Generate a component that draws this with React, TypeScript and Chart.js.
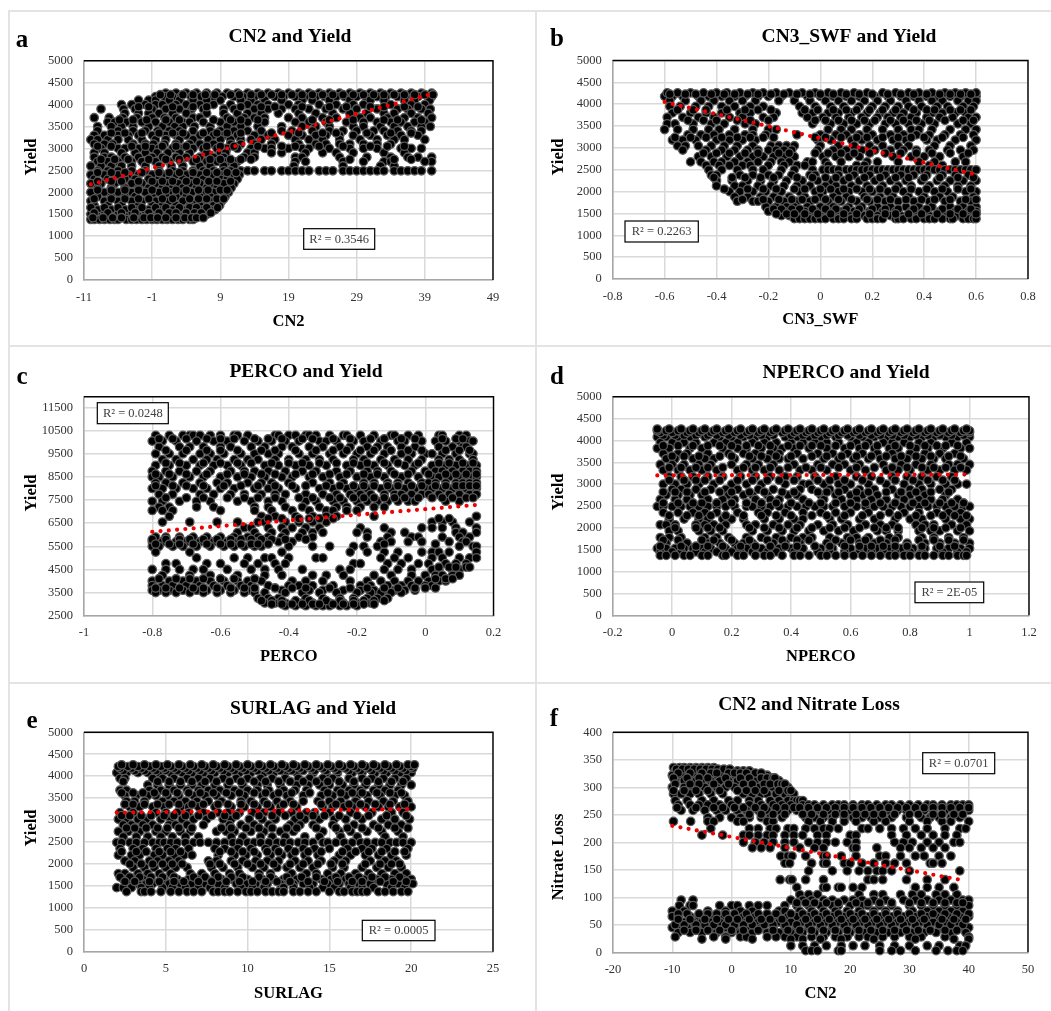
import { useEffect, useRef } from 'react';
import { Chart, registerables } from 'chart.js';
Chart.register(...registerables);

const SERIF = '"Liberation Serif"';
type Rows = [number, number[]][];

const rowsA: Rows = [
[4260,[1,2.5,4,5.5,7,8.5,10,11.5,13,14.5,16,17.5,19,20.5,22,23.5,25,26.5,28,29.5,31,32.5,34,35.5,37,38.5,40]],
[4180,[-.5,.8,2,3.2,4.7,6.2,8,9.3,11,12.3,14,15.2,17,18.3,20,21.4,23,24.3,26,27.2,29,30.3,32,33.3,35,36.2,38,39.5,40]],
[4100,[-3,-1.5,-.5,1.5,3,5,7,9,12,13.5,15.5,18,21,22.5,25,28,31,33,36,37.5,39.7]],
[4000,[-5.5,-4,-2,-.5,.5,2.5,4,6,8,10.5,13,14.5,16,19,20.5,23.5,26,28.5,30,34,37,39]],
[3900,[-8.5,-5.2,-3.5,-1,1,3,4.8,6.5,9.5,11,14,16,18,20,22,24.5,27,29,32,35,36.5,38.5,39.8]],
[3800,[-5,-3,-1.5,0,2,4,7,9.5,11.5,13,15,17.5,20.5,23,25.5,28,30.5,33,34.5,37,39.5]],
[3700,[-9.5,-7.3,-5.3,-3.2,-1,.8,2.5,5,6,10,12.5,14,15.5,19,21,24,26,29.5,31,33.5,36,38,40]],
[3600,[-7.5,-6.5,-4.8,-2.5,-.5,1.5,3.5,4.5,6.5,9,11,13,15.5,20,22,24.5,27.5,30,32,34,35.5,37.5,39]],
[3500,[-9,-7,-5.5,-3.8,-1.5,.5,2.3,3.5,5.2,7.5,10,12,14.5,18,21,23,25,28.5,30,32.5,34.5,36.5,38.5,39.8]],
[3400,[-9,-6,-3.8,-2,-.2,1.5,3,5,7.5,9,11,13,15,18,19.5,22.5,25,27,29,31.5,33,35,37,38.5]],
[3300,[-9.5,-8,-6,-4.5,-3,-1,1,2.5,4,6,8,9.5,11.5,14,16,19,21,23,24.5,26.5,28.5,31,33.5,35.5,38]],
[3200,[-10,-9,-7.5,-6,-4.5,-2.5,-.5,1,3,5,7.2,9,10.5,12,13.5,15,17,20,22,24,26.5,29.5,32,34.5,36,39]],
[3100,[-9.5,-8,-6.8,-3.8,-2,-.8,.8,2.5,4.5,6,8,10.5,12,14,16.5,20.5,23,24.5,26.5,28,30,32,34]],
[3000,[-8.5,-6,-5,-3,-1,0,2,3.2,5,6.5,8.5,10,11.5,13.5,15.5,16.5,19,21,22,25,28,30,32,35.5,37,38.5]],
[2900,[-9.5,-8,-5.5,-3.5,-2,-.3,1.3,3,4.5,7,9,9.8,13,14,16.5,18,21.5,24,26,28.5,33,36]],
[2800,[-9.5,-8,-7,-5,-3,-1,.5,2.5,4,6,8,9.5,12.5,14,20,21,26.5,30.5,34,36.5,38,40]],
[2700,[-9,-7.5,-6,-4,-2.5,-.5,1.5,3.2,5,7,8.5,10,11.5,20,21.5,27,30,33,34,40,39]],
[2600,[-10,-8.5,-7,-5.5,-4,-2,0,1.8,3.5,6,7.5,9.5,11,19.8,27,32.5,34.5]],
[2490,[-9,-7.5,-6,-4,-2,0,2,3.5,5,6.5,8,9.5,10.5,12,13,14,15.5,16.5,18,19,20,21,22,23.5,24.5,25.5,27,28,29,30,31,32,33,34.5,35.5,36.5,37.5,38.5,40]],
[2400,[-10,-8,-6,-4.5,-3,-1,.5,2.5,4,6,8,9,10.5,11.8]],
[2300,[-9.5,-7.5,-5,-3.5,-1.5,0,1.5,3.5,5,6.5,9,10,11.5]],
[2200,[-10,-8.5,-6.5,-4,-2.5,-.5,1,2.8,4.5,6,7.8,9.5,11]],
[2100,[-9,-7,-5,-3,-1.5,.5,2,3.5,5.5,7,8.5,10.6]],
[2000,[-10,-8,-6,-4,-2,0,1.5,3,4.8,6.5,8,9.8,10.2]],
[1900,[-9,-7,-5,-3.5,-1,1,2.5,4,6,7.5,9.7]],
[1800,[-10,-8,-6,-4,-2.5,-.5,1.5,3.5,5,6.5,8,9.2]],
[1700,[-9.5,-7.5,-5.5,-3,-1,.5,2.5,4.5,6,8,8.9]],
[1600,[-9,-7,-5,-3.5,-1.5,0,2,3.5,5,6.5,7.5,8.2]],
[1500,[-10,-8,-6,-4,-2,-.5,1,3,4.5,5.8,7]],
[1450,[-9,-7,-5,-3,-1,.5,2,3.5,5,6]],
[1380,[-10,-9.5,-8.7,-8,-7.2,-6.5,-6,-4.8,-4,-3.3,-2.5,-1.8,-1,-.3,.5,1.2,2,2.8,3.5,4.5,5]],
[3950,[-3,-1.5,2,5,7,12,15,17,21,25,27.5,31,33,36,38]],
[3650,[-5.8,-3.8,-1.8,1,3,8,10.5,12,14.5,22.5,25,28.5,33,35,38.5]],
[3350,[-7,-5,-2.5,0,2,3.5,6.5,8.5,10,12,16.5,20.5,24,26,30.5,34,37]],
[3050,[-9,-7,-4,-2,.5,2.5,4,7,9,11,14.5,18,20,23.5,27,31,33.5,36]],
[2750,[-8.5,-6.5,-4.5,-1.5,1,3,5.5,7.5,9,10.5,12,13.5,28,34.5,37]],
[2450,[-9,-7,-5,-2.5,0,1.5,3,5,7,8.5,10,11.3]],
[2250,[-9,-7,-5.5,-3,-1,.5,2,4,5.5,7.3,8.5,10.5]],
[2050,[-9,-7,-5,-3,-1,1,2.5,4,5.8,7.2,9,10]],
[1850,[-9.5,-7,-5,-3,-1.5,.5,2,4.5,5.8,7,8.5,9.5]],
[1650,[-10,-8,-6,-4,-2.5,-.5,1,3,4.5,5.5,7,8.6]],
[1530,[-9.5,-7.5,-5.5,-3.5,-1.5,0,1.5,2.5,4,5.2,6.2,7.6]],
[1420,[-9.7,-8.2,-6.8,-5.5,-3.7,-2.2,-1.2,-.2,1,2.5,3.8,4.8,5.5,6.5]],
[4225,[.2,1.7,3.5,5,6.8,8.2,10.5,11.8,13.5,15,16.5,18,19.5,21,22.5,24,25.5,27,28.5,30,31.5,33,34.5,36,37.5,39,40.2]],
];

const rowsB: Rows = [
[4180,[-.6,-.57,-.53,-.47,-.43,-.38,-.33,-.29,-.24,-.2,-.15,-.1,-.05,0,.05,.1,.15,.21,.26,.31,.36,.41,.45,.5,.54,.58,.6]],
[4080,[-.58,-.52,-.46,-.41,-.35,-.3,-.25,-.16,-.1,-.04,.02,.07,.12,.17,.22,.27,.33,.38,.43,.47,.53,.57,.6]],
[3950,[-.58,-.54,-.48,-.43,-.38,-.33,-.27,-.22,-.08,-.02,.04,.09,.15,.2,.25,.3,.34,.39,.45,.49,.55,.59]],
[3800,[-.57,-.5,-.44,-.38,-.31,-.27,-.17,-.07,-.03,.03,.07,.12,.18,.23,.28,.32,.37,.43,.47,.52,.56]],
[3700,[-.59,-.53,-.47,-.41,-.35,-.3,-.22,-.18,-.05,.01,.06,.11,.16,.22,.26,.31,.35,.41,.46,.51,.57,.6]],
[3550,[-.59,-.56,-.49,-.42,-.37,-.29,-.25,-.03,.04,.09,.14,.19,.25,.29,.34,.39,.44,.53,.58]],
[3420,[-.6,-.55,-.49,-.43,-.39,-.33,-.26,-.2,-.17,.03,.08,.12,.18,.24,.3,.35,.38,.43,.5,.56,.6]],
[3300,[-.51,-.46,-.41,-.35,-.29,-.26,-.21,-.09,0,.06,.1,.15,.2,.27,.32,.37,.42,.48,.54,.59]],
[3180,[-.57,-.53,-.48,-.4,-.35,-.3,-.25,-.01,.04,.12,.16,.22,.28,.33,.41,.45,.52,.6]],
[3050,[-.55,-.52,-.47,-.42,-.37,-.32,-.26,-.19,-.16,-.13,-.1,0,.07,.13,.19,.24,.3,.34,.44,.5,.58]],
[2950,[-.53,-.44,-.38,-.33,-.28,-.24,-.2,-.17,-.14,-.11,-.01,.05,.1,.16,.21,.27,.32,.37,.42,.49,.54,.59]],
[2800,[-.47,-.42,-.36,-.31,-.26,-.22,-.18,-.14,-.1,.01,.06,.11,.15,.28,.35,.4,.46,.55]],
[2680,[-.5,-.46,-.41,-.38,-.33,-.28,-.24,-.19,-.15,-.12,-.05,-.03,.02,.08,.18,.22,.3,.38,.44,.52,.56]],
[2600,[-.44,-.39,-.35,-.3,-.27,-.2,-.14,-.09,-.06,.03,.14,.17,.42,.47]],
[2500,[-.43,-.38,-.32,-.26,-.22,-.15,-.1,-.03,.01,.03,.05,.07,.1,.12,.14,.16,.18,.2,.22,.24,.26,.28,.3,.32,.34,.36,.38,.4,.42,.44,.46,.48,.5,.52,.54,.56,.58,.6]],
[2380,[-.42,-.4,-.31,-.26,-.2,-.16,-.11,-.04,-.02,.07,.13,.19,.25,.31,.36,.41,.47,.52,.57]],
[2250,[-.4,-.34,-.28,-.23,-.18,-.13,-.07,-.01,.04,.09,.15,.21,.27,.33,.39,.45,.5,.55,.6]],
[2130,[-.4,-.33,-.3,-.24,-.19,-.14,-.09,-.04,.02,.06,.12,.18,.24,.3,.35,.42,.48,.53,.58]],
[2000,[-.35,-.31,-.26,-.21,-.15,-.08,-.02,.01,.07,.11,.16,.2,.26,.32,.38,.44,.49,.56,.6]],
[1880,[-.33,-.28,-.23,-.18,-.12,-.06,0,.05,.1,.17,.23,.28,.34,.4,.46,.51,.59]],
[1780,[-.32,-.26,-.24,-.2,-.14,-.09,-.04,.03,.08,.14,.19,.25,.3,.36,.42,.48,.54,.58]],
[1650,[-.21,-.17,-.13,-.1,-.05,0,.05,.11,.16,.22,.27,.33,.38,.43,.5,.55,.6]],
[1550,[-.2,-.17,-.14,-.1,-.06,-.02,.03,.08,.13,.19,.24,.29,.35,.4,.46,.52,.57,.6]],
[1450,[-.15,-.12,-.08,-.04,0,.06,.11,.17,.22,.27,.31,.37,.42,.48,.53,.58]],
[1380,[-.1,-.08,-.06,-.04,-.02,0,.02,.05,.07,.09,.12,.14,.18,.2,.22,.24,.29,.3,.32,.35,.37,.4,.42,.44,.47,.5,.51,.55,.57,.59,.6]],
[3870,[-.55,-.49,-.44,-.36,-.29,-.24,-.19,-.06,-.01,.05,.1,.14,.19,.24,.29,.36,.41,.44,.5,.54,.58]],
[3630,[-.51,-.45,-.4,-.32,-.27,-.2,-.02,.02,.07,.12,.17,.21,.27,.32,.37,.42,.48,.55,.59]],
[3240,[-.56,-.5,-.44,-.38,-.32,-.27,-.22,-.18,-.02,.02,.08,.14,.18,.24,.3,.35,.4,.47,.55]],
[2880,[-.45,-.4,-.35,-.29,-.24,-.16,-.12,-.02,.03,.08,.13,.19,.25,.31,.37,.43,.5,.57]],
[2320,[-.41,-.34,-.29,-.23,-.18,-.09,-.03,.02,.06,.11,.17,.23,.29,.34,.4,.46,.53,.59]],
[2060,[-.37,-.28,-.22,-.17,-.1,-.06,0,.04,.09,.14,.19,.23,.29,.35,.41,.47,.53,.58]],
[1820,[-.3,-.22,-.16,-.11,-.07,-.02,.02,.07,.12,.18,.22,.27,.33,.39,.44,.5,.56,.6]],
[1600,[-.18,-.15,-.11,-.08,-.03,.02,.06,.1,.15,.2,.25,.3,.36,.41,.47,.53,.58]],
[1490,[-.17,-.13,-.1,-.06,-.01,.04,.09,.14,.19,.25,.29,.34,.39,.45,.5,.55,.6]],
[4260,[-.59,-.55,-.5,-.45,-.4,-.36,-.31,-.26,-.22,-.17,-.12,-.07,-.02,.03,.08,.13,.18,.24,.29,.34,.38,.43,.48,.52,.56,.6]],
[4230,[-.58,-.52,-.48,-.42,-.37,-.33,-.28,-.24,-.19,-.14,-.09,-.04,0,.05,.1,.15,.2,.26,.31,.36,.41,.46,.5,.54,.58]],
];

const rowsC: Rows = [
[10300,[-.79,-.75,-.71,-.69,-.68,-.66,-.63,-.6,-.56,-.55,-.52,-.44,-.43,-.4,-.38,-.35,-.34,-.32,-.28,-.24,-.23,-.19,-.15,-.1,-.09,-.05,-.02,.04,.05,.1,.12]],
[10050,[-.8,-.77,-.73,-.67,-.62,-.59,-.58,-.53,-.49,-.45,-.41,-.37,-.31,-.29,-.26,-.21,-.18,-.13,-.08,-.06,-.01,.03,.06,.1,.13,.14]],
[9800,[-.78,-.72,-.69,-.65,-.6,-.57,-.51,-.47,-.42,-.39,-.34,-.3,-.25,-.22,-.17,-.14,-.11,-.07,-.03,.04,.08,.11,.12]],
[9500,[-.79,-.75,-.71,-.66,-.63,-.59,-.54,-.5,-.46,-.43,-.37,-.33,-.28,-.24,-.2,-.16,-.12,-.07,-.04,0,.02,.05,.09,.13,.14]],
[9250,[-.77,-.73,-.68,-.64,-.61,-.56,-.52,-.49,-.44,-.4,-.35,-.31,-.27,-.21,-.18,-.13,-.09,-.05,-.01,.04,.07,.1,.14]],
[9000,[-.79,-.75,-.7,-.66,-.62,-.58,-.54,-.47,-.43,-.38,-.34,-.29,-.23,-.19,-.15,-.11,-.06,-.03,.02,.06,.09,.12,.15]],
[8750,[-.8,-.76,-.72,-.67,-.63,-.57,-.53,-.5,-.46,-.41,-.36,-.32,-.26,-.22,-.17,-.14,-.1,-.04,0,.03,.05,.08,.11,.13,.15]],
[8500,[-.8,-.78,-.74,-.69,-.65,-.6,-.55,-.51,-.47,-.42,-.39,-.34,-.3,-.25,-.2,-.16,-.12,-.07,-.02,.02,.04,.07,.1,.12,.14,.15]],
[8250,[-.79,-.76,-.71,-.66,-.61,-.58,-.52,-.48,-.45,-.4,-.33,-.28,-.24,-.18,-.15,-.11,-.08,-.05,-.01,.01,.03,.06,.09,.11,.13,.15]],
[8000,[-.8,-.77,-.73,-.68,-.64,-.6,-.56,-.5,-.46,-.43,-.38,-.31,-.27,-.23,-.2,-.17,-.13,-.1,-.06,-.03,0,.02,.05,.08,.1,.12,.14,.15]],
[7750,[-.78,-.74,-.66,-.62,-.57,-.53,-.48,-.44,-.41,-.35,-.3,-.26,-.22,-.19,-.16,-.12,-.09,-.07,-.04,-.01,.01,.04,.07,.1,.13,.15]],
[7450,[-.8,-.77,-.72,-.67,-.63,-.55,-.51,-.46,-.42,-.35,-.32,-.27,-.24,-.2,-.17,-.14,-.11,-.08,-.05,-.03,.06,.1]],
[7200,[-.78,-.75,-.67,-.62,-.5,-.46,-.41,-.36,-.31,-.26,-.23,-.19,-.15,-.12]],
[7050,[-.8,-.77,-.74,-.6,-.5,-.45,-.39,-.34,-.29,-.27,-.23,-.2]],
[6800,[-.75,-.48,-.44,-.38,-.33,-.29,-.26,-.15,.15]],
[6550,[-.77,-.69,-.61,-.55,-.49,-.47,-.41,-.37,-.33,-.29,.02,.05,.08,.13]],
[6300,[-.53,-.51,-.46,-.42,-.39,-.35,-.31,-.19,-.12,-.01,.02,.05,.09,.15]],
[6100,[-.55,-.5,-.45,-.41,-.36,-.33,-.3,-.2,-.17,-.1,-.06,.09,.11,.15]],
[5900,[-.79,-.76,-.72,-.68,-.64,-.6,-.56,-.52,-.49,-.46,-.42,-.37,-.33,-.17,-.11,-.04,-.02,.05,.1,.13]],
[5700,[-.8,-.77,-.73,-.7,-.66,-.62,-.58,-.55,-.5,-.47,-.43,-.39,-.13,-.1,-.05,-.01,.07,.11,.12]],
[5500,[-.8,-.78,-.74,-.71,-.67,-.63,-.59,-.56,-.53,-.5,-.48,-.4,-.33,-.28,-.21,-.18,-.14,.1,.14,.15]],
[5250,[-.79,-.69,-.42,-.22,-.17,-.12,-.08,-.01,.02,.04,.07,.15]],
[5000,[-.67,-.56,-.52,-.47,-.45,-.4,-.32,-.3,-.13,-.09,-.05,.02,.05,.1,.13,.15]],
[4750,[-.76,-.73,-.64,-.6,-.53,-.49,-.44,-.41,-.21,-.19,-.11,-.07,-.02,.01,.06,.09,.12]],
[4500,[-.8,-.76,-.72,-.68,-.65,-.58,-.51,-.47,-.43,-.36,-.25,-.22,-.12,-.08,-.04,.02,.04,.08,.1]],
[4250,[-.77,-.69,-.63,-.55,-.47,-.42,-.33,-.29,-.24,-.15,-.1,-.04,0,.03,.05,.08,.1]],
[4000,[-.8,-.75,-.71,-.67,-.63,-.59,-.55,-.52,-.48,-.39,-.35,-.3,-.22,-.17,-.13,-.09,-.05,-.02,.01,.04,.06]],
[3800,[-.8,-.77,-.74,-.7,-.66,-.62,-.58,-.54,-.51,-.46,-.4,-.37,-.33,-.27,-.19,-.16,-.11,-.07,-.04,0,.02]],
[3600,[-.8,-.78,-.75,-.71,-.67,-.64,-.6,-.56,-.52,-.5,-.42,-.34,-.3,-.24,-.19,-.15,-.12,-.09,-.06,-.03]],
[3500,[-.79,-.76,-.73,-.69,-.65,-.61,-.57,-.53,-.5,-.47,-.41,-.36,-.31,-.26,-.2,-.16,-.13,-.1,-.07]],
[3250,[-.49,-.46,-.43,-.35,-.3,-.25,-.21,-.17,-.14,-.11]],
[3050,[-.47,-.44,-.41,-.37,-.33,-.28,-.24,-.2,-.16]],
[2930,[-.41,-.38,-.35,-.32,-.3,-.28,-.25,-.23,-.2]],
[10150,[-.78,-.74,-.7,-.64,-.6,-.56,-.5,-.46,-.42,-.36,-.33,-.27,-.22,-.16,-.12,-.07,-.03,.05,.09,.11]],
[9650,[-.76,-.7,-.64,-.6,-.55,-.48,-.44,-.38,-.32,-.27,-.23,-.19,-.15,-.1,-.05,-.01,.06,.1,.13]],
[9100,[-.76,-.72,-.65,-.6,-.55,-.51,-.45,-.4,-.36,-.31,-.26,-.21,-.17,-.12,-.08,-.02,.04,.07,.11,.14]],
[8620,[-.79,-.75,-.7,-.64,-.58,-.53,-.48,-.44,-.38,-.33,-.28,-.23,-.18,-.14,-.09,-.05,.01,.06,.09,.12,.15]],
[8120,[-.79,-.74,-.7,-.65,-.59,-.54,-.49,-.44,-.39,-.35,-.29,-.25,-.21,-.18,-.15,-.11,-.08,-.04,-.01,.03,.06,.09,.11,.13,.15]],
[7600,[-.76,-.7,-.65,-.58,-.53,-.49,-.44,-.37,-.33,-.28,-.25,-.21,-.18,-.15,-.12,-.09,-.06,-.02,.02,.05,.08,.12,.14]],
[5800,[-.8,-.76,-.72,-.69,-.65,-.61,-.57,-.54,-.51,-.48,-.45,-.41,-.35]],
[5600,[-.79,-.75,-.72,-.68,-.64,-.6,-.57,-.54,-.51,-.49,-.46,-.12,.03]],
[6700,[-.46,-.42,-.37,-.34,-.31,-.27,.04,.07]],
[3700,[-.79,-.76,-.72,-.68,-.65,-.61,-.57,-.53,-.5,-.44,-.39,-.35,-.28,-.22,-.17,-.12,-.08,-.03,0,.03]],
[3150,[-.48,-.45,-.42,-.38,-.34,-.29,-.25,-.21,-.18,-.15,-.12]],
[3000,[-.45,-.42,-.39,-.36,-.33,-.31,-.27,-.24,-.21,-.18,-.15]],
[4100,[-.78,-.73,-.69,-.65,-.6,-.56,-.5,.03,.06,.08]],
[4600,[.04,.07,.09,.12,.13]],
];

const rowsD: Rows = [
[4080,[-.05,-.02,.02,.06,.11,.16,.2,.24,.28,.32,.38,.42,.46,.5,.55,.6,.64,.68,.72,.76,.8,.84,.88,.92,.96,1]],
[3950,[-.04,0,.04,.08,.14,.18,.22,.27,.31,.35,.4,.44,.48,.52,.56,.62,.66,.71,.74,.78,.83,.87,.94,.99]],
[3820,[-.05,-.01,.06,.1,.17,.22,.25,.3,.34,.37,.41,.46,.52,.58,.63,.68,.73,.76,.82,.86,.91,.97,1]],
[3700,[-.03,.02,.05,.12,.19,.24,.28,.33,.36,.42,.49,.54,.59,.64,.69,.74,.8,.85,.9,.95]],
[3580,[-.02,.01,.07,.11,.14,.21,.27,.32,.36,.39,.44,.51,.56,.61,.66,.7,.75,.79,.84,.88,.92,.98]],
[3450,[-.04,0,.04,.09,.13,.2,.25,.29,.34,.41,.49,.54,.58,.63,.71,.77,.82,.87,.93,.96,1]],
[3320,[-.03,.02,.06,.1,.15,.22,.27,.31,.36,.43,.47,.52,.6,.65,.72,.76,.8,.86,.9,.95,.99]],
[3170,[-.01,.03,.07,.12,.17,.23,.28,.33,.38,.42,.48,.55,.62,.67,.74,.79,.84,.89,.94]],
[3000,[-.03,.01,.05,.09,.14,.2,.25,.3,.38,.44,.46,.51,.56,.6,.66,.72,.78,.83,.87,.92,.96,.99]],
[2880,[0,.03,.08,.13,.18,.22,.29,.34,.43,.47,.53,.58,.63,.68,.74,.8,.84,.9,.94]],
[2750,[-.02,.02,.06,.1,.19,.24,.27,.32,.39,.42,.5,.55,.6,.64,.69,.76,.8,.85,.92]],
[2650,[-.04,.01,.05,.12,.17,.21,.28,.33,.36,.44,.51,.57,.62,.67,.72,.78,.83,.87,.91,.96]],
[2490,[-.05,-.03,0,.03,.06,.09,.12,.15,.18,.21,.25,.27,.3,.33,.36,.39,.42,.45,.48,.51,.54,.58,.62,.65,.68,.71,.74,.77,.8,.83,.86,.89,.92,.95,.98,1]],
[2350,[-.03,.02,.07,.11,.15,.22,.29,.32,.38,.44,.5,.55,.6,.66,.73,.78,.83,.89,.93,.97]],
[2200,[-.01,.04,.09,.12,.17,.2,.24,.31,.36,.41,.44,.53,.57,.63,.68,.75,.8,.84,.92,.97,1]],
[2070,[-.04,-.02,.01,.08,.11,.14,.18,.25,.28,.34,.39,.43,.49,.54,.59,.65,.7,.74,.82,.85,.88,.94,.99]],
[1930,[-.01,.02,.09,.13,.17,.27,.32,.37,.41,.46,.51,.56,.61,.69,.72,.76,.83,.87,.9,.96,1]],
[1780,[-.04,-.01,.03,.11,.15,.19,.25,.3,.35,.4,.44,.47,.53,.59,.62,.66,.73,.76,.84,.88,.93,.98]],
[1650,[-.02,.05,.12,.16,.21,.24,.27,.34,.38,.43,.52,.57,.63,.68,.72,.79,.85,.9,.95,1]],
[1530,[-.05,-.02,.01,.04,.07,.1,.13,.18,.22,.25,.3,.36,.4,.44,.5,.54,.6,.65,.69,.73,.77,.81,.85,.89,.93,.97,1]],
[1450,[-.04,0,.03,.08,.11,.15,.2,.23,.27,.32,.35,.41,.49,.53,.58,.63,.67,.71,.75,.8,.84,.91,.96,.99]],
[1370,[-.04,-.02,.01,.04,.06,.1,.12,.17,.18,.22,.24,.28,.31,.33,.37,.41,.43,.46,.5,.52,.55,.58,.61,.64,.67,.7,.73,.75,.78,.8,.83,.85,.88,.91,.93,.96,.98,.99]],
[3880,[-.03,.02,.07,.12,.16,.2,.25,.29,.33,.39,.43,.47,.5,.55,.6,.65,.69,.75,.8,.85,.89,.92,.96]],
[3640,[0,.04,.09,.16,.2,.26,.3,.35,.4,.47,.52,.57,.62,.67,.72,.77,.82,.87,.93,.97]],
[3380,[-.01,.03,.08,.12,.17,.24,.28,.33,.39,.45,.5,.56,.62,.68,.74,.79,.84,.88,.92,.97]],
[3090,[-.01,.04,.08,.11,.16,.22,.27,.32,.36,.41,.49,.53,.58,.64,.7,.75,.81,.86,.91,.95]],
[2820,[-.03,.01,.05,.11,.16,.2,.26,.31,.37,.41,.49,.52,.56,.62,.66,.72,.77,.82,.87,.93]],
[2570,[-.03,.02,.07,.1,.15,.2,.25,.3,.35,.4,.46,.5,.55,.6,.65,.7,.75,.81,.85,.9,.94,.98]],
[2280,[-.01,.05,.09,.13,.18,.24,.3,.35,.4,.47,.52,.58,.64,.7,.76,.82,.87,.91,.95,.99]],
[2000,[.01,.08,.12,.16,.26,.31,.36,.42,.47,.53,.58,.63,.68,.72,.76,.84,.88,.92,.97]],
[1720,[-.03,.02,.1,.14,.2,.26,.32,.37,.42,.46,.55,.6,.65,.7,.75,.83,.88,.93,.98]],
[1580,[-.04,.03,.08,.12,.17,.23,.28,.33,.38,.42,.48,.53,.58,.63,.67,.71,.75,.79,.84,.9,.95]],
[4120,[-.03,.01,.04,.08,.12,.15,.19,.23,.26,.3,.34,.4,.44,.48,.52,.56,.59,.63,.67,.7,.74,.78,.82,.86,.9,.94,.98]],
[4180,[-.04,0,.05,.09,.13,.17,.21,.25,.29,.33,.37,.41,.45,.49,.53,.57,.61,.65,.69,.73,.77,.81,.85,.89,.93,.97,1]],
[4220,[-.05,-.02,.02,.06,.1,.14,.18,.22,.26,.3,.34,.38,.42,.46,.5,.54,.58,.62,.66,.7,.74,.78,.82,.86,.9,.94,.98,1]],
[4260,[-.05,-.01,.03,.07,.11,.15,.19,.23,.27,.31,.35,.39,.43,.47,.51,.55,.59,.63,.67,.71,.75,.79,.83,.87,.91,.95,.99]],
];

const rowsE: Rows = [
[4080,[2,2.6,3.3,3.9,4.6,5.3,6,6.6,7.3,8,8.8,9.5,10.2,11,11.6,12.3,13,14,14.8,15.5,16.4,17,17.8,18.5,19.3,20]],
[3950,[2.2,2.5,4.2,4.8,5.5,6.3,7,7.7,8.5,9.3,10,10.8,11.5,12.3,13.1,13.8,14.6,15.2,16.2,17,17.6,18.3,19,19.7]],
[3800,[3.9,4.5,5.2,5.9,6.6,7.2,8,8.8,9.7,10.6,11.2,12,13,13.7,14.4,15,15.8,16.5,17.2,18,18.7,19.4,20]],
[3680,[2.2,2.6,4,4.7,5.5,6.3,7,7.6,8.3,9.2,10,10.6,11.3,12.2,12.9,13.6,14.7,15.5,16.2,16.9,17.7,18.4,19.2]],
[3560,[2.5,3.2,3.9,4.4,5.1,5.8,6.7,7.4,8.1,9,9.8,10.9,11.6,12.4,13.4,14.5,15.2,16,16.7,17.3,18.1,19,19.6]],
[3430,[2.6,3.1,3.7,4.8,5.5,6.2,6.9,7.6,8.4,9.6,10.2,11,11.8,12.6,13.4,14.3,15,15.7,16.6,17.4,18.3,18.9,19.8]],
[3300,[2.8,3.4,4.2,4.9,5.9,6.4,7,8,9,9.8,10.6,11.4,12,13,14.6,15.2,15.9,16.4,17.2,18,18.6,19.3,20]],
[3170,[2.2,3,4.4,5,5.7,6.4,7.3,8.2,8.8,9.5,10.3,11,11.9,12.7,13.6,14.1,15,16.3,17.6,18.8,19.5]],
[3020,[2.1,2.6,3.3,3.8,4.7,5.3,6,6.7,7.5,8.5,9,10.1,10.9,11.7,12.9,13.5,14.4,15.3,16,17,18.2,19,19.9]],
[2890,[2.4,2.9,3.6,4.2,5.2,5.6,6.3,7.3,8.9,9.6,10.4,11.3,12.6,13.2,14,15.2,16.5,17.7,18.6,19.4]],
[2740,[2.1,2.7,3.4,4.4,5,5.9,6.5,8.1,8.7,9.2,10.2,11,12,12.8,14.6,15.6,16.3,17.3,18.2,19.2]],
[2620,[2.4,3.2,3.9,4.7,5.4,6.2,7,9,9.7,10.8,11.5,12.3,13.5,14.4,15.7,16.7,18.4,19.5]],
[2490,[2,2.3,2.8,3.2,3.7,4.2,4.6,4.9,5.3,5.7,6.2,6.7,7.1,7.6,8.1,8.6,9.1,9.5,10,10.4,10.8,11.3,11.8,12.2,12.6,13.1,13.5,14,14.6,14.9,15.4,15.9,16.4,16.9,17.3,17.8,18.2,18.7,19.1,19.5,20]],
[2350,[2.2,3,3.6,4.4,5.1,5.6,6.4,8,8.6,9.4,10.2,11.1,11.7,12.5,13.4,14.1,15,16.1,17,17.6,18.5,19.8]],
[2200,[2.1,2.9,3.4,4.3,4.8,5.5,6.1,6.6,8.2,9.2,9.9,10.6,11.4,12.1,12.7,13.5,14.3,15.6,16.3,17.2,18,18.8,19.7]],
[2070,[2.5,3.1,4,4.5,5.2,5.8,7.6,8.1,9,9.7,10.5,11.2,11.9,12.9,13.7,14.5,15.3,16,17.5,18.4,19.1]],
[1920,[3,3.7,4.3,5,5.6,6.3,7.8,8.5,9.4,10.3,11,11.8,12.4,13.2,14,15.2,15.9,17,17.9,18.6,19.4]],
[1780,[2.1,2.5,3.3,3.9,4.6,5.3,6.5,7.2,8,8.9,9.5,10.7,11.4,12.7,13.6,14.2,14.9,15.7,16.6,17.4,18.2,19,19.7]],
[1650,[2.4,3,3.6,4.9,5.7,6.4,6.9,7.5,8.4,9.1,10,10.9,11.6,12.2,13,14.5,15.1,16,16.5,17.1,17.9,18.8,19.5,20]],
[1550,[2.7,3.3,3.8,4.2,5.2,5.9,6.6,7.3,8.2,9.3,9.9,10.5,11.2,12,12.8,13.4,14,14.9,15.6,16.2,16.8,17.5,18.5,19.2,20.1]],
[1460,[2,2.4,2.9,3.5,4,4.8,5.4,6.2,7,7.7,8.6,9.6,10.3,11,12.2,12.8,13.8,14.6,15.3,16.3,17,17.7,18.8,19.6]],
[1370,[2.6,3.5,3.7,4.1,4.7,5.3,5.8,6.3,6.7,7.2,7.9,8.2,8.6,8.9,9.4,9.9,10.2,10.6,11.1,11.5,11.9,12.2,12.8,13.2,13.7,14.2,15,15.6,15.9,16.4,16.7,17,17.3,18,18.4,18.9,19.4,19.8]],
[3880,[2.4,4.5,5.2,5.9,6.6,7.4,8.1,8.9,9.6,10.4,11.1,11.9,12.6,13.4,14.2,14.9,15.6,16.5,17.3,18,18.8,19.5]],
[3620,[2.3,3,3.6,4.3,5,5.7,6.4,7.1,7.9,8.7,9.5,10.4,11.1,11.9,12.7,13.8,14.9,15.7,16.4,17,17.9,18.7,19.4]],
[3360,[2.5,3,3.7,4.5,5.2,5.8,6.6,7.3,8.2,8.8,9.6,10.4,11.2,12.2,12.8,14.5,15.4,16.2,16.9,17.8,18.7,19.6]],
[3100,[2.3,2.8,3.5,4.1,4.9,5.5,6.2,7,7.8,8.6,9.3,10.7,11.5,12.3,13.2,14,14.7,15.6,16.7,17.4,18.5,19.7]],
[2820,[2.6,3.1,3.8,4.5,5.1,5.8,6.6,8.4,9,9.9,10.7,11.5,12.4,13,14.2,15.4,16.1,17,18,19,19.8]],
[2280,[2.3,3.2,3.8,4.6,5.3,5.9,8.3,9,9.7,10.4,11.2,11.9,12.9,13.7,14.5,15.8,16.6,17.4,18.2,19,19.6]],
[2000,[2.8,3.5,4.2,4.8,5.4,6,7.7,8.3,9.2,10,10.8,11.6,12.6,13.4,14.3,15.1,15.8,17.2,18.1,18.8,19.3]],
[1700,[2.2,2.8,3.4,4.1,4.8,5.5,6.7,7.4,8.2,9,9.7,10.7,11.4,12.4,13.3,14.2,15.4,16.2,16.8,17.6,18.4,19.3]],
[1600,[2.5,3.1,4,4.6,5.5,6.1,7,7.8,8.7,9.5,10.3,11.1,11.8,12.6,13.7,14.7,15.5,16.4,17,18.1,18.9,19.7]],
[4130,[2.4,3.1,3.7,4.4,5,5.7,6.4,7.1,7.8,8.5,9.2,9.9,10.6,11.3,12,12.7,13.4,14.1,14.8,15.5,16.2,16.9,17.6,18.3,19,19.7]],
[4180,[2.2,2.9,3.5,4.2,4.9,5.5,6.2,6.9,7.6,8.3,9,9.7,10.4,11.1,11.8,12.5,13.2,13.9,14.6,15.3,16,16.7,17.4,18.1,18.8,19.5,20.1]],
[4220,[2.1,2.7,3.3,4,4.7,5.3,6,6.7,7.4,8.1,8.8,9.5,10.2,10.9,11.6,12.3,13,13.7,14.4,15.1,15.8,16.5,17.2,17.9,18.6,19.3,20]],
[4260,[2.3,3,3.7,4.4,5.1,5.8,6.5,7.2,7.9,8.6,9.3,10,10.7,11.4,12.1,12.8,13.5,14.2,14.9,15.6,16.3,17,17.7,18.4,19.1,19.8,20.2]],
];

const rowsF: Rows = [
[336,[-9.8,-8.8,-8,-7,-6,-5,-4,-3]],
[330,[-9.5,-7.5,-5.5,-2,-1,0,1,2,3]],
[322,[-10,-8.5,-6.5,-4.5,-3,-1.5,.5,2,3.5,4.5,5,6]],
[312,[-9.5,-8,-6,-5,-3.5,-2,-.5,1,2.5,4,5.5,7,7.5,8]],
[300,[-10,-8,-6.5,-4.5,-2.5,-1,.5,3,4.5,6,7,8,9,9.5]],
[288,[-9.8,-8.5,-7,-5.5,-3.5,-1.5,2,3.5,5,6,7.5,9,10,10.5]],
[276,[-9.5,-7.5,-5,-3,-.5,1,3,4.5,6.5,8,9.5,10.5,11,11.5,12]],
[268,[-9,-7,-5.5,-4,-2,0,3,5,7,8.5,10,12,13,14,15.5,17,18,19,20.5,22,23,24.5,26,27,28.5,30,31.5,33,34,35.5,37,38,39,40]],
[258,[-8.5,-6.5,-4.5,-2.5,-1,1,2.5,4.5,6,8,9.5,11,12.5,14,15,16.5,18.5,20,21.5,23,25,26.5,28,29.5,31,32.5,34,36,37.5,39,40]],
[245,[-4,-2,0,1.5,3,5,6.5,8.5,12.5,14,15.5,17,19,20.5,22,23.5,25,27,29.5,32,33.5,35,37,38.5]],
[238,[-9.8,-6.9,-4,-3,1,2,6,7,13,15,17,19,21,24,26,30,33,35.5,37,40]],
[225,[-3.5,3,4.5,6.5,7.5,9.5,10.5,12.5,14,15.5,16.5,18,22,23,25,27,29,31,33,36,38.5,39.5]],
[213,[-5,-1.5,2,3,4.5,6,7,9,10.5,12,14.5,16,20,21,27,29.5,32,34,36,38]],
[200,[2,4,5.5,7,9,10.5,13,14.5,16,17.5,19.5,21,27.5,29,30.5,33,35,37.5,38.5]],
[190,[3.5,5,6.5,9,11.5,14,15.5,20.5,21,24.5,28.5,30,32,34,36]],
[175,[8.3,9.5,10.2,12.5,15.5,16,18.5,21,25,26,28.5,31,32.5,35,37]],
[162,[9,9.8,13.5,15.5,16,19,20,22,24,26,27.5,29.5,33.5,34,35.5]],
[148,[13,17,19.5,21.5,23,24.5,25.5,27,30,38.5]],
[132,[8.2,9.8,10.2,12.5,15.5,23,24,25.5,29.5,33,36]],
[118,[11,15.5,16,18,18.5,20.5,22,31,33,35,37.5]],
[105,[11.5,13,14.5,21.5,24,25.5,28.5,30.5,32,34.5,36,38]],
[95,[-8.5,-6.5,10,12,13.5,15.5,17,19,20.5,22,24,26,29,31,33,35,37,39,40]],
[85,[-8.8,-7,-6.5,-2,0,1,3,4.5,6,9,11,13,15,17,18,20,22,23,25,27,30,32,34,36,38,40]],
[75,[-10,-8,-4,-1,1.5,3.5,8,9,11.5,13.5,15.5,17.5,19.5,21.5,24,26,28,30.5,33,35,37,39]],
[65,[-10,-9,-7,-5.5,-3,-1.5,0,2,4,5.5,7,9.5,11,13,15,17,19,21,23,25,27,29,31,33,34.5,36.5,38.5,40]],
[55,[-8,-6.5,-5,-3.5,-2,-.5,1,2.5,4.5,6,8,10,12,14,16,18,20,22,24,26,28,30,32,34,36,38]],
[45,[-10,-9,-7.5,-6,-4.5,-3,-1,.5,3,5,7,9,11,13,15,17,19,21,23,25,27,29,31,33,35,37,39,40]],
[36,[-9,-7,-5,-2.5,0,1.5,3.5,6,8,10,12,14,16,18,20,22.5,24.5,26.5,28.5,30.5,32.5,34.5,37,39.5]],
[28,[-9.5,-3,-1,1.5,2.5,6,7.5,9,11,13.5,15.5,17.5,19.5,21.5,23,25.5,27.5,30,32,36,40]],
[24,[-5,-1,3.5,10,12,15,18.5,24,31,37.5,40]],
[12,[10,12,14,16,18.5,20.5,22.5,25,27.5,30,33,35,38.5,39.5]],
[3,[12.5,13.5,14.5,18,18.5,25,27,28.5,31,34.5,36.5,38,39]],
[333,[-9.3,-8.3,-7.3,-6.3,-5.3,-4.3,-3.3,-2.3,-1.3,-.3]],
[326,[-9,-7,-5,-3.5,-2.5,-.5,.5,1.5,2.5,4,5]],
[317,[-9.8,-7.5,-5.5,-4,-1,1.5,3,5,6,7,7.3]],
[306,[-9.5,-7,-5.5,-3,-.5,2,3.5,5.5,6.5,7.8,8.5,9]],
[294,[-9.8,-8,-6,-4,-2,1,2.5,4,5.5,8,9.5,10]],
[263,[-9.2,-6,-3,-1.5,.5,2,4,5.5,7.5,9,10.5,11.5,13,14.5,16,17.5,19,20.5,22,23.5,25,26.5,28,29.5,31,32.5,34,35.5,37,38.5,40]],
[251,[3,5,7,9,12,13.5,15.5,17.5,19,21,22.5,24,25.5,27.5,30,31.5,34,35.5,37.5,39]],
[70,[-9,-7.5,-5.5,-4,-2.5,-1,.5,2.5,4.5,6,7.5,10,12,14,16,18,20,22,24,26,28,30,32,34,36,38,40]],
[50,[-9.5,-8,-6,-4.5,-3,-1,.5,2,3.5,5.5,7,9,11,13,15,17,19,21,23,25,27,29,31,33,35,37,39]],
[40,[-8,-6,-4,-2,0,2,4.5,7,9.5,11.5,13.5,15.5,17.5,19.5,21.5,23.5,25.5,27.5,29.5,31.5,33.5,36,38]],
[60,[-9,-7,-4.5,-2.5,-.5,1,3,5,6.5,8.5,12.5,14.5,16.5,18.5,20.5,22.5,24.5,26.5,28.5,30.5,32.5,35.5,37.5,39.5]],
[90,[11,12.5,14,16,18,21,23,25,27,30,32,34,36,38,39]],
];

const panels = [
  { letter: 'a', title: 'CN2 and Yield', xt: 'CN2', yt: 'Yield', rows: rowsA, xTicks: [-11, -1, 9, 19, 29, 39, 49], yTicks: [0, 500, 1000, 1500, 2000, 2500, 3000, 3500, 4000, 4500, 5000], trendX: [-10, 40], trendY: [2180, 4240], r2: 'R² = 0.3546',
    box: [10, 12, 523, 331], plot: [84, 60.7, 493, 280], titleAt: [290, 37], letterAt: [22, 41], ytAt: [32, 157], r2Box: [303.7, 228.7, 71, 20.6], xtPad: 11 },
  { letter: 'b', title: 'CN3_SWF and Yield', xt: 'CN3_SWF', yt: 'Yield', rows: rowsB, xTicks: [-0.8, -0.6, -0.4, -0.2, 0, 0.2, 0.4, 0.6, 0.8], yTicks: [0, 500, 1000, 1500, 2000, 2500, 3000, 3500, 4000, 4500, 5000], trendX: [-0.6, 0.59], trendY: [4050, 2400], r2: 'R² = 0.2263',
    box: [537, 12, 514, 331], plot: [612.7, 60.5, 1028, 279], titleAt: [849, 36.5], letterAt: [557, 40], ytAt: [559, 157], r2Box: [625, 221, 73.3, 21], xtPad: 13 },
  { letter: 'c', title: 'PERCO and Yield', xt: 'PERCO', yt: 'Yield', rows: rowsC, xTicks: [-1, -0.8, -0.6, -0.4, -0.2, 0, 0.2], yTicks: [2500, 3500, 4500, 5500, 6500, 7500, 8500, 9500, 10500, 11500], trendX: [-0.8, 0.15], trendY: [6130, 7290], r2: 'R² = 0.0248',
    box: [10, 347, 523, 334], plot: [84, 396.7, 493.5, 615.7], titleAt: [306, 372], letterAt: [22, 378], ytAt: [32, 493], r2Box: [97.3, 402.7, 71, 21], yMax: 11970, yMin: 2500, xtPad: 14 },
  { letter: 'd', title: 'NPERCO and Yield', xt: 'NPERCO', yt: 'Yield', rows: rowsD, xTicks: [-0.2, 0, 0.2, 0.4, 0.6, 0.8, 1, 1.2], yTicks: [0, 500, 1000, 1500, 2000, 2500, 3000, 3500, 4000, 4500, 5000], trendX: [-0.05, 1], trendY: [3200, 3220], r2: 'R² = 2E-05',
    box: [537, 347, 514, 334], plot: [612.7, 396.7, 1029, 615.3], titleAt: [846, 373], letterAt: [557, 378], ytAt: [559, 492], r2Box: [915, 582, 68.7, 20.7], xtPad: 14 },
  { letter: 'e', title: 'SURLAG and Yield', xt: 'SURLAG', yt: 'Yield', rows: rowsE, xTicks: [0, 5, 10, 15, 20, 25], yTicks: [0, 500, 1000, 1500, 2000, 2500, 3000, 3500, 4000, 4500, 5000], trendX: [2, 20], trendY: [3170, 3250], r2: 'R² = 0.0005',
    box: [10, 684, 523, 327], plot: [84, 732.3, 493, 951.7], titleAt: [313, 709], letterAt: [32, 722], ytAt: [32, 828], r2Box: [362.3, 920.3, 72.7, 20.4], xtPad: 7 },
  { letter: 'f', title: 'CN2 and Nitrate Loss', xt: 'CN2', yt: 'Nitrate Loss', rows: rowsF, xTicks: [-20, -10, 0, 10, 20, 30, 40, 50], yTicks: [0, 50, 100, 150, 200, 250, 300, 350, 400], trendX: [-10, 39.5], trendY: [230, 130], r2: 'R² = 0.0701',
    box: [537, 684, 514, 327], plot: [613, 732.3, 1028, 952.3], titleAt: [809, 705], letterAt: [554, 720], ytAt: [559, 857], r2Box: [922.7, 752.7, 72, 21], xtPad: 7 },
];

function Panel({ p }: { p: any }) {
  const ref = useRef<HTMLCanvasElement>(null);
  useEffect(() => {
    const [bx, by, bw, bh] = p.box;
    const [pl, pt, pr, pb] = p.plot;
    const points = p.rows.flatMap(([y, xs]: [number, number[]]) => xs.map((x: number) => ({ x, y })));
    const trend = p.trendX.map((x: number, i: number) => ({ x, y: p.trendY[i] }));
    const overlay = {
      id: 'overlay',
      beforeDatasetsDraw(c: any) {
        const g = c.ctx; const a = c.chartArea;
        g.save(); g.strokeStyle = '#000'; g.lineWidth = 1.4; g.beginPath();
        g.moveTo(a.left, a.top); g.lineTo(a.right, a.top); g.lineTo(a.right, a.bottom); g.stroke(); g.restore();
      },
      afterDraw(c: any) {
        const g = c.ctx;
        g.save();
        g.textAlign = 'center'; g.textBaseline = 'middle'; g.fillStyle = '#000';
        g.font = `bold 19.5px ${SERIF}`; g.fillText(p.title, p.titleAt[0] - bx, p.titleAt[1] - by);
        g.font = `bold 25px ${SERIF}`; g.fillText(p.letter, p.letterAt[0] - bx, p.letterAt[1] - by);
        g.save(); g.translate(p.ytAt[0] - bx, p.ytAt[1] - by); g.rotate(-Math.PI / 2);
        g.font = `bold 16.5px ${SERIF}`; g.fillText(p.yt, 0, 0); g.restore();
        const [rx, ry, rw, rh] = p.r2Box;
        g.fillStyle = '#fff'; g.strokeStyle = '#000'; g.lineWidth = 1.2;
        g.fillRect(rx - bx, ry - by, rw, rh); g.strokeRect(rx - bx, ry - by, rw, rh);
        g.fillStyle = '#404040'; g.font = `12.5px ${SERIF}`;
        g.fillText(p.r2, rx - bx + rw / 2, ry - by + rh / 2 + 0.5);
        g.restore();
      },
    };
    const chart = new Chart(ref.current as any, {
      type: 'scatter',
      data: { datasets: [
        { data: trend, showLine: true, pointRadius: 0, borderColor: '#f00000', borderWidth: 4.2, borderDash: [0, 8.3], borderCapStyle: 'round', fill: false, clip: false },
        { data: points, pointRadius: 4.2, pointBackgroundColor: '#000', pointBorderColor: '#595959', pointBorderWidth: 1.3, clip: false },
      ] } as any,
      options: {
        animation: false, responsive: false, devicePixelRatio: 1,
        layout: { padding: { top: pt - by, right: bx + bw - pr, left: 0, bottom: 0 } },
        plugins: { legend: { display: false }, tooltip: { enabled: false } },
        scales: {
          x: {
            type: 'linear', min: p.xTicks[0], max: p.xTicks[p.xTicks.length - 1],
            afterBuildTicks: (s: any) => { s.ticks = p.xTicks.map((v: number) => ({ value: v })); },
            afterFit: (s: any) => { s.height = by + bh - pb; },
            grid: { color: '#d9d9d9', lineWidth: 1.5, drawTicks: false },
            border: { color: '#a6a6a6', width: 1.5 },
            ticks: { padding: 10, color: '#333', maxRotation: 0, autoSkip: false, font: { family: SERIF, size: 12.5 }, callback: (v: any) => String(v) },
            title: { display: true, text: p.xt, color: '#000', font: { family: SERIF, size: 16.5, weight: 'bold' }, align: 'center', padding: { top: 0, bottom: p.xtPad } },
          },
          y: {
            type: 'linear', min: p.yMin ?? p.yTicks[0], max: p.yMax ?? p.yTicks[p.yTicks.length - 1],
            afterBuildTicks: (s: any) => { s.ticks = p.yTicks.map((v: number) => ({ value: v })); },
            afterFit: (s: any) => { s.width = pl - bx; },
            grid: { color: '#d9d9d9', lineWidth: 1.5, drawTicks: false },
            border: { color: '#a6a6a6', width: 1.5 },
            ticks: { padding: 11, color: '#333', autoSkip: false, font: { family: SERIF, size: 12.5 }, callback: (v: any) => String(v) },
          },
        },
      } as any,
      plugins: [overlay],
    });
    return () => chart.destroy();
  }, [p]);
  return <canvas ref={ref} width={p.box[2]} height={p.box[3]} style={{ position: 'absolute', left: p.box[0], top: p.box[1], width: p.box[2], height: p.box[3] }} />;
}

const rules = [
  [8, 10, 2, 1001], [535, 10, 2, 1001], [8, 10, 1043, 2], [8, 345, 1043, 2], [8, 682, 1043, 2],
];

export default function App() {
  return (
    <div style={{ position: 'fixed', left: 0, top: 0, width: 1051, height: 1011, background: '#fff', overflow: 'hidden' }}>
      {rules.map((r, i) => <div key={i} style={{ position: 'absolute', left: r[0], top: r[1], width: r[2], height: r[3], background: '#e3e3e3' }} />)}
      {panels.map((p) => <Panel key={p.letter} p={p} />)}
    </div>
  );
}
